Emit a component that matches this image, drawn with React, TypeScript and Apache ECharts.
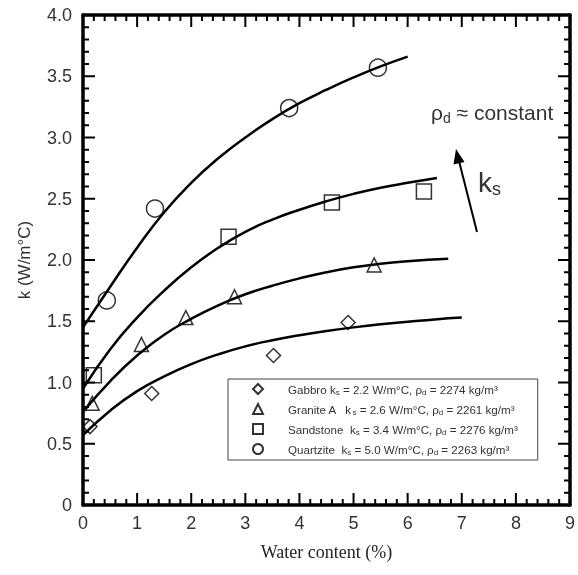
import React, { useEffect, useRef } from "react";
import * as echarts from "echarts";

// Measured data points (water content %, k W/m°C)
const gabbroX = [0.13, 1.27, 3.52, 4.9];
const gabbroK = [0.64, 0.91, 1.22, 1.49];
const graniteX = [0.17, 1.08, 1.9, 2.8, 5.38];
const graniteK = [0.83, 1.31, 1.53, 1.7, 1.96];
const sandX = [0.2, 2.69, 4.6, 6.3];
const sandK = [1.06, 2.19, 2.47, 2.56];
const quartzX = [0.44, 1.33, 3.81, 5.45];
const quartzK = [1.67, 2.42, 3.24, 3.57];

// Model curves
const gabbroCurveX = [0, 0.5, 1, 1.5, 2, 2.5, 3, 3.5, 4, 4.5, 5, 5.5, 6, 6.5, 7];
const gabbroCurveK = [0.57, 0.77, 0.93, 1.05, 1.15, 1.23, 1.295, 1.345, 1.385, 1.42, 1.45, 1.475, 1.495, 1.515, 1.53];
const graniteCurveX = [0, 0.5, 1, 1.5, 2, 2.5, 3, 3.5, 4, 4.5, 5, 5.5, 6, 6.75];
const graniteCurveK = [0.76, 1.01, 1.22, 1.39, 1.52, 1.63, 1.72, 1.79, 1.85, 1.9, 1.94, 1.97, 1.99, 2.01];
const sandCurveX = [0, 0.5, 1, 1.5, 2, 2.5, 3, 3.5, 4, 4.5, 5, 5.5, 6, 6.54];
const sandCurveK = [0.95, 1.27, 1.53, 1.75, 1.94, 2.1, 2.23, 2.33, 2.41, 2.48, 2.54, 2.59, 2.63, 2.67];
const quartzCurveX = [0, 0.5, 1, 1.5, 2, 2.5, 3, 3.5, 4, 4.5, 5, 5.5, 6];
const quartzCurveK = [1.45, 1.78, 2.1, 2.39, 2.63, 2.83, 3.0, 3.15, 3.28, 3.39, 3.49, 3.58, 3.66];

const seriesNames = ["Gabbro", "Granite A", "Sandstone", "Quartzite"];
const seriesSymbols = ["diamond", "triangle", "rect", "circle"];
const seriesSymbolSizes = [14, 14, 15, 17];
const legendNameText = ["Gabbro ", "Granite A   ", "Sandstone  ", "Quartzite  "];
const ksValues = ["2.2", "2.6", "3.4", "5.0"];
const rhoValues = ["2274", "2261", "2276", "2263"];

// Axis ticks
const xMajorTicks = [0, 1, 2, 3, 4, 5, 6, 7, 8, 9];
const yMajorTicks = [0, 0.5, 1, 1.5, 2, 2.5, 3, 3.5, 4];
const yTickLabels: Record<string, string> = {
  "0": "0", "0.5": "0.5", "1": "1.0", "1.5": "1.5", "2": "2.0",
  "2.5": "2.5", "3": "3.0", "3.5": "3.5", "4": "4.0",
};

const SANS = "Liberation Sans, Arial, sans-serif";
const zip = (xs: number[], ys: number[]) => xs.map((x, i) => [x, ys[i]]);

const mkAxisLine = () => ({ show: true, onZero: false, lineStyle: { color: "#000", width: 3.5 } });
const MAJOR_LEN = 12;
const MINOR_LEN = 6;
const MINOR_SPLIT = 5;

export default function App() {
  const ref = useRef<HTMLDivElement>(null);
  useEffect(() => {
    if (!ref.current) return;
    const chart = echarts.init(ref.current, undefined, { renderer: "svg" });
    const pointSets = [zip(gabbroX, gabbroK), zip(graniteX, graniteK), zip(sandX, sandK), zip(quartzX, quartzK)];
    const curveSets = [
      zip(gabbroCurveX, gabbroCurveK),
      zip(graniteCurveX, graniteCurveK),
      zip(sandCurveX, sandCurveK),
      zip(quartzCurveX, quartzCurveK),
    ];

    const lineSeries = curveSets.map((d, i) => ({
      name: seriesNames[i] + " model",
      type: "line",
      data: d,
      smooth: true,
      symbol: "none",
      showSymbol: false,
      silent: true,
      lineStyle: { color: "#000", width: 2.5 },
      z: 2,
    }));
    const scatterSeries = pointSets.map((d, i) => ({
      name: seriesNames[i],
      type: "scatter",
      data: d,
      symbol: seriesSymbols[i],
      symbolSize: seriesSymbolSizes[i],
      itemStyle: { color: "rgba(255,255,255,0)", borderColor: "#000", borderWidth: 1.5 },
      z: 3,
    }));

    const annotations: any[] = [
      {
        id: "rho", type: "text", x: 431, y: 99, z: 10,
        style: {
          text: "{a|ρ}{b|d}{a| ≈ constant}",
          rich: {
            a: { fontSize: 21, lineHeight: 26, fill: "#333", fontFamily: SANS },
            b: { fontSize: 14, lineHeight: 12, verticalAlign: "bottom", fill: "#333", fontFamily: SANS },
          },
        },
      },
      {
        id: "ks", type: "text", x: 478, y: 166, z: 10,
        style: {
          text: "{a|k}{b|s}",
          rich: {
            a: { fontSize: 28, lineHeight: 32, fill: "#333", fontFamily: SANS },
            b: { fontSize: 18, lineHeight: 16, verticalAlign: "bottom", fill: "#333", fontFamily: SANS },
          },
        },
      },
      {
        id: "arrowLine", type: "line", z: 10,
        shape: { x1: 477, y1: 232, x2: 459, y2: 161 },
        style: { stroke: "#000", lineWidth: 2 },
      },
      {
        id: "arrowHead", type: "polygon", z: 10,
        shape: { points: [[456, 149], [464.5, 162], [453.5, 164.5]] },
        style: { fill: "#000" },
      },
    ];

    const option: any = {
      animation: false,
      grid: { left: 83, right: 6, top: 15, bottom: 70 },
      xAxis: [
        {
          type: "value", min: 0, max: 9, interval: 1, position: "bottom",
          axisLine: mkAxisLine(), axisTick: { show: false }, splitLine: { show: false },
          axisLabel: { color: "#333", fontSize: 18, fontFamily: SANS, margin: 9 },
          name: "Water content (%)", nameLocation: "middle", nameGap: 38,
          nameTextStyle: { fontFamily: "Liberation Serif, Times New Roman, serif", fontSize: 18, color: "#222" },
        },
        {
          type: "value", min: 0, max: 9, interval: 1, position: "top",
          axisLine: mkAxisLine(), axisTick: { show: false }, splitLine: { show: false },
          axisLabel: { show: false },
        },
      ],
      yAxis: [
        {
          type: "value", min: 0, max: 4, interval: 0.5, position: "left",
          axisLine: mkAxisLine(), axisTick: { show: false }, splitLine: { show: false },
          axisLabel: { color: "#333", fontSize: 18, fontFamily: SANS, margin: 11, formatter: (v: number) => yTickLabels[String(v)] ?? String(v) },
          name: "k (W/m°C)", nameLocation: "middle", nameGap: 50,
          nameTextStyle: { fontFamily: SANS, fontSize: 17, color: "#333" },
        },
        {
          type: "value", min: 0, max: 4, interval: 0.5, position: "right",
          axisLine: mkAxisLine(), axisTick: { show: false }, splitLine: { show: false },
          axisLabel: { show: false },
        },
      ],
      legend: {
        orient: "vertical", left: 228, top: 379,
        padding: [4, 20, 4, 24],
        itemWidth: 10, itemHeight: 10, itemGap: 7,
        borderColor: "#444", borderWidth: 1, backgroundColor: "#fff",
        selectedMode: false,
        data: seriesNames,
        formatter: (name: string) => {
          const i = seriesNames.indexOf(name);
          return `{sp| }{n|${legendNameText[i]}k}{s|s}{n| = ${ksValues[i]} W/m°C, ρ}{s|d}{n| = ${rhoValues[i]} kg/m³}`;
        },
        textStyle: {
          color: "#333",
          fontFamily: SANS,
          rich: {
            sp: { width: 20, fontSize: 11.6 },
            n: { fontSize: 11.6, lineHeight: 14, color: "#333", fontFamily: SANS },
            s: { fontSize: 8, lineHeight: 8, verticalAlign: "bottom", color: "#333", fontFamily: SANS },
          },
        },
      },
      graphic: annotations,
      series: [...lineSeries, ...scatterSeries],
    };
    chart.setOption(option);

    // Inward tick marks on all four sides, positioned through the axes' own scales
    const ticks: any[] = [];
    const tick = (x1: number, y1: number, x2: number, y2: number) =>
      ticks.push({ type: "line", z: 9, silent: true, shape: { x1, y1, x2, y2 }, style: { stroke: "#000", lineWidth: 2 } });
    const xPix = (v: number) => chart.convertToPixel({ xAxisIndex: 0 }, v) as number;
    const yPix = (v: number) => chart.convertToPixel({ yAxisIndex: 0 }, v) as number;
    const top = yPix(yMajorTicks[yMajorTicks.length - 1]);
    const bottom = yPix(yMajorTicks[0]);
    const left = xPix(xMajorTicks[0]);
    const right = xPix(xMajorTicks[xMajorTicks.length - 1]);
    xMajorTicks.forEach((v, i) => {
      const px = xPix(v);
      tick(px, bottom, px, bottom - MAJOR_LEN);
      tick(px, top, px, top + MAJOR_LEN);
      if (i < xMajorTicks.length - 1) {
        const step = (xPix(xMajorTicks[i + 1]) - px) / MINOR_SPLIT;
        for (let k = 1; k < MINOR_SPLIT; k++) {
          const mx = px + step * k;
          tick(mx, bottom, mx, bottom - MINOR_LEN);
          tick(mx, top, mx, top + MINOR_LEN);
        }
      }
    });
    yMajorTicks.forEach((v, i) => {
      const py = yPix(v);
      tick(left, py, left + MAJOR_LEN, py);
      tick(right, py, right - MAJOR_LEN, py);
      if (i < yMajorTicks.length - 1) {
        const step = (yPix(yMajorTicks[i + 1]) - py) / MINOR_SPLIT;
        for (let k = 1; k < MINOR_SPLIT; k++) {
          const my = py + step * k;
          tick(left, my, left + MINOR_LEN, my);
          tick(right, my, right - MINOR_LEN, my);
        }
      }
    });
    if (isFinite(top) && isFinite(left)) {
      chart.setOption({ graphic: [...annotations, ...ticks] });
    }
    return () => chart.dispose();
  }, []);
  return <div ref={ref} style={{ position: "fixed", left: 0, top: 0, width: 578, height: 575 }} />;
}
